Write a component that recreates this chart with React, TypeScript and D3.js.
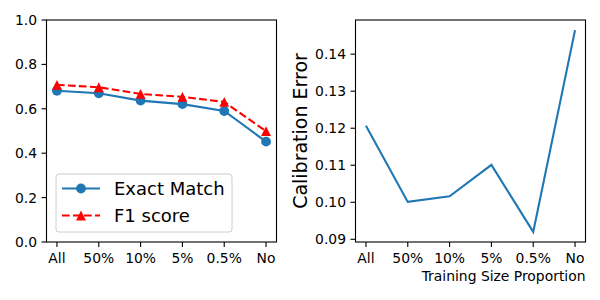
import React from 'react';
import * as d3 from 'd3';

const categories = ['All', '50%', '10%', '5%', '0.5%', 'No'];
const exactMatch = [0.681, 0.670, 0.637, 0.621, 0.590, 0.452];
const f1Score = [0.708, 0.697, 0.667, 0.654, 0.631, 0.499];
const calibError = [0.1207, 0.1001, 0.1016, 0.1101, 0.0920, 0.1465];
const leftTicks = [0, 0.2, 0.4, 0.6, 0.8, 1.0];
const rightTicks = [0.09, 0.10, 0.11, 0.12, 0.13, 0.14];

const W = 600;
const H = 300;
const top = 20;
const bottom = 242;
const font = 'DejaVu Sans, sans-serif';
const tickFs = 13.9;
const legendFs = 18;
const labelFs = 19;
const blue = '#1f77b4';
const red = '#ff0000';
const dash = '7.7,3.3';
const mr = 4.9; // marker half-size incl. edge

const pointScale = (x0: number, x1: number) => {
  // matplotlib default 5% margins around index range
  const n = categories.length - 1;
  const pad = n * 0.05;
  return d3.scaleLinear().domain([-pad, n + pad]).range([x0, x1]);
};

// matplotlib style '^' marker: box-centred triangle
const triangle = d3.line()([[0, -mr], [mr, mr], [-mr, mr]]) + 'Z';

const XTicks: React.FC<{ x: d3.ScaleLinear<number, number> }> = ({ x }) => (
  <g>
    {categories.map((c, i) => (
      <g key={c} transform={`translate(${x(i)},${bottom})`}>
        <line y2={5} stroke="#000" strokeWidth={1.1} />
        <text y={20.5} textAnchor="middle" fontSize={tickFs} fontFamily={font}>{c}</text>
      </g>
    ))}
  </g>
);

const YTicks: React.FC<{ y: d3.ScaleLinear<number, number>; x0: number; ticks: number[]; fmt: (v: number) => string }> = ({ y, x0, ticks, fmt }) => (
  <g>
    {ticks.map(t => (
      <g key={t} transform={`translate(${x0},${y(t)})`}>
        <line x2={-5} stroke="#000" strokeWidth={1.1} />
        <text x={-9.5} dy="0.36em" textAnchor="end" fontSize={tickFs} fontFamily={font}>{fmt(t)}</text>
      </g>
    ))}
  </g>
);

export default function App() {
  // left panel
  const lx0 = 46.5, lx1 = 276.5;
  const xl = pointScale(lx0, lx1);
  const yl = d3.scaleLinear().domain([0, 1]).range([bottom, top]);
  const lineL = d3.line<number>().x((_, i) => xl(i)).y(d => yl(d));

  // right panel
  const rx0 = 355.5, rx1 = 585.5;
  const xr = pointScale(rx0, rx1);
  const [mn, mx] = d3.extent(calibError) as [number, number];
  const pad = (mx - mn) * 0.05;
  const yr = d3.scaleLinear().domain([mn - pad, mx + pad]).range([bottom, top]);
  const lineR = d3.line<number>().x((_, i) => xr(i)).y(d => yr(d));

  const lgX = 56, lgY = 174, lgW = 176, lgH = 58;

  return (
    <svg width={W} height={H} style={{ position: 'absolute', left: 0, top: 0, background: '#fff' }}>
      {/* left panel */}
      <path d={lineL(exactMatch) ?? ''} fill="none" stroke={blue} strokeWidth={2.1} />
      {exactMatch.map((d, i) => (
        <circle key={i} cx={xl(i)} cy={yl(d)} r={mr} fill={blue} />
      ))}
      <path d={lineL(f1Score) ?? ''} fill="none" stroke={red} strokeWidth={2.1} strokeDasharray={dash} />
      {f1Score.map((d, i) => (
        <path key={i} d={triangle} transform={`translate(${xl(i)},${yl(d)})`} fill={red} />
      ))}
      <rect x={lx0} y={top} width={lx1 - lx0} height={bottom - top} fill="none" stroke="#000" strokeWidth={1.1} />
      <XTicks x={xl} />
      <YTicks y={yl} x0={lx0} ticks={leftTicks} fmt={d3.format('.1f')} />

      {/* legend */}
      <rect x={lgX} y={lgY} width={lgW} height={lgH} rx={3} fill="#fff" fillOpacity={0.8} stroke="#cccccc" strokeWidth={1} />
      <line x1={62} x2={100} y1={188.5} y2={188.5} stroke={blue} strokeWidth={2.1} />
      <circle cx={81} cy={188.5} r={mr} fill={blue} />
      <text x={114} y={188.5} dy="0.36em" fontSize={legendFs} fontFamily={font}>Exact Match</text>
      <line x1={62} x2={100} y1={215.5} y2={215.5} stroke={red} strokeWidth={2.1} strokeDasharray={dash} />
      <path d={triangle} transform={`translate(81,215.5)`} fill={red} />
      <text x={114} y={215.5} dy="0.36em" fontSize={legendFs} fontFamily={font}>F1 score</text>

      {/* right panel */}
      <path d={lineR(calibError) ?? ''} fill="none" stroke={blue} strokeWidth={2.1} />
      <rect x={rx0} y={top} width={rx1 - rx0} height={bottom - top} fill="none" stroke="#000" strokeWidth={1.1} />
      <XTicks x={xr} />
      <YTicks y={yr} x0={rx0} ticks={rightTicks} fmt={d3.format('.2f')} />
      <text transform={`translate(306.5,${(top + bottom) / 2}) rotate(-90)`} textAnchor="middle" fontSize={labelFs} fontFamily={font}>Calibration Error</text>
      <text x={rx1} y={281} textAnchor="end" fontSize={tickFs} fontFamily={font}>Training Size Proportion</text>
    </svg>
  );
}
